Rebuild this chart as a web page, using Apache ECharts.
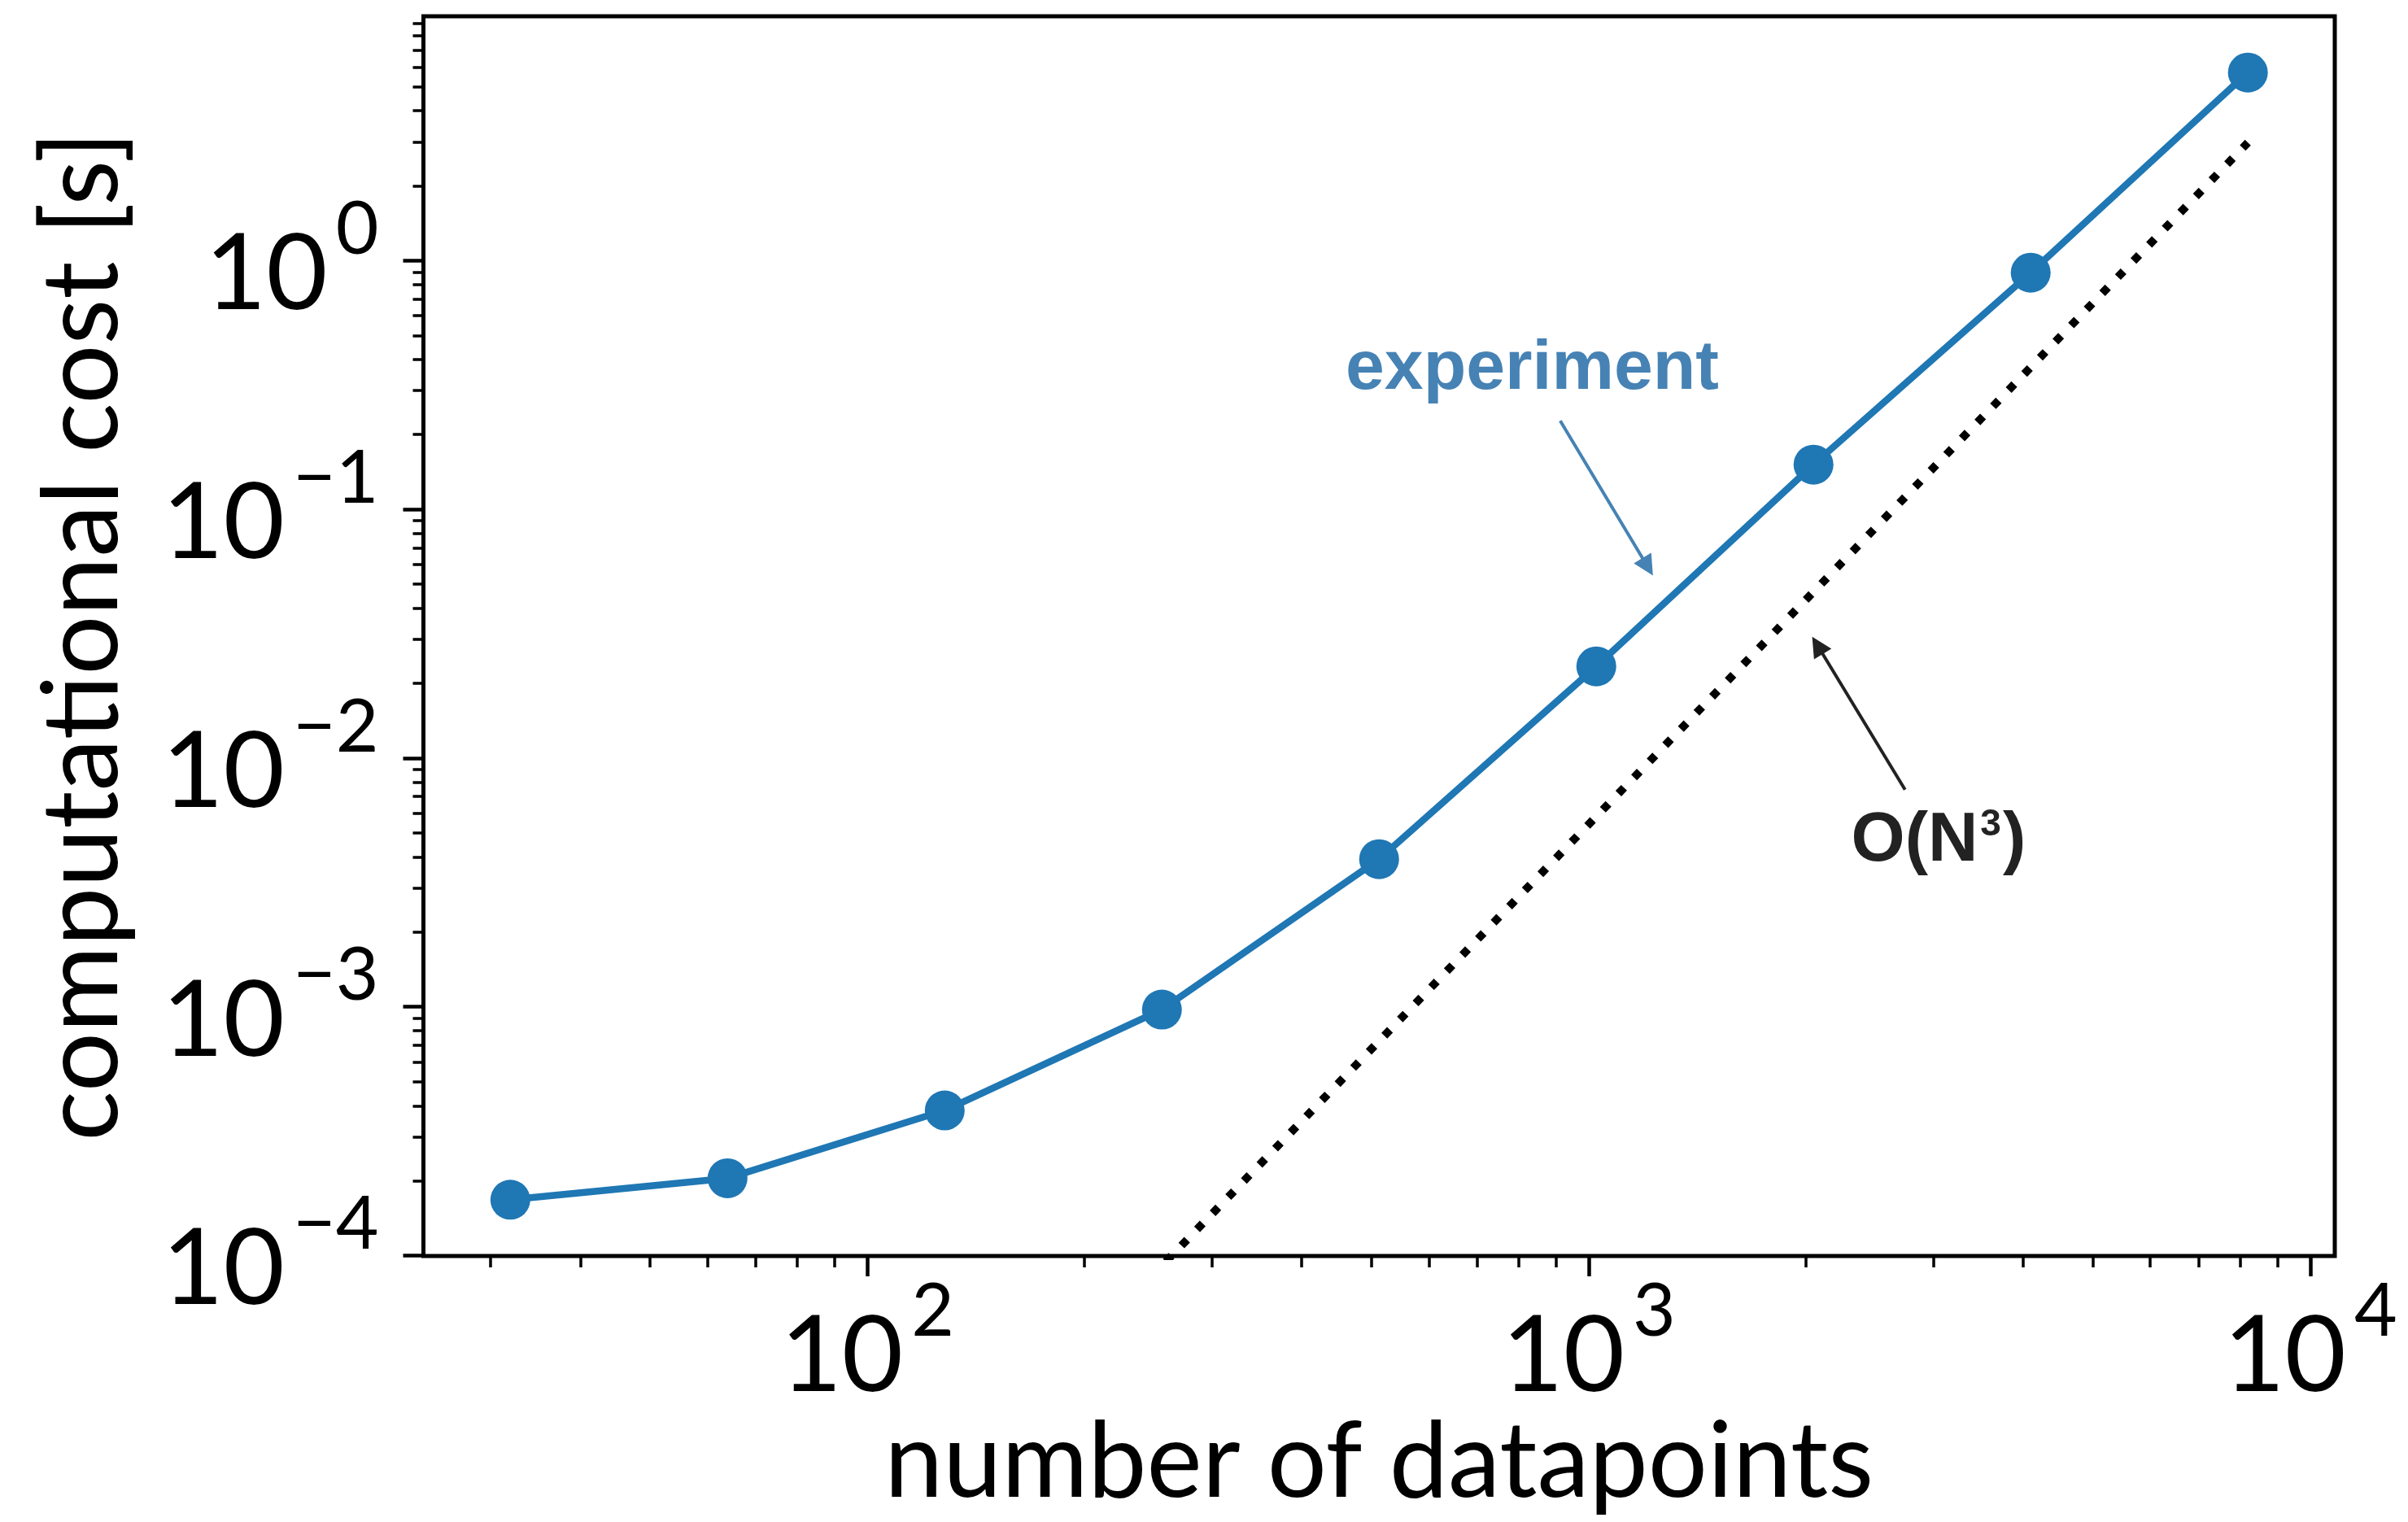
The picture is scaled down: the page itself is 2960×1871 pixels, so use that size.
<!DOCTYPE html>
<html>
<head>
<meta charset="utf-8">
<script src="https://cdn.jsdelivr.net/npm/echarts@6/dist/echarts.min.js"></script>
<style>
  html, body { margin: 0; padding: 0; background: #fff; }
  #chart { width: 2960px; height: 1871px; }
</style>
</head>
<body>
<div id="chart"></div>
<script>
// Problem sizes and measured run times
const datapoints = [32, 64, 128, 256, 512, 1024, 2048, 4096, 8192];
const experimentCost = [1.675e-4, 2.044e-4, 3.83e-4, 9.74e-4, 3.92e-3, 0.02335, 0.1512, 0.894, 5.70];
// Cubic reference curve, O(N^3)
const cubicCost = [1.776e-7, 1.421e-6, 1.137e-5, 9.095e-5, 7.276e-4, 5.821e-3, 0.04657, 0.3725, 2.98];

// Axis extents
const xRange = [24.25, 10810];
const yRange = [9.95e-5, 9.6];

// Major ticks and their exponent labels
const xMajorTicks = [100, 1000, 10000];
const xTickExponents = ['2', '3', '4'];
const yMajorTicks = [1e-4, 1e-3, 1e-2, 1e-1, 1];
const yTickExponents = ['\u22124', '\u22123', '\u22122', '\u22121', '0'];

// Minor ticks (2..9 within each decade)
const xMinorTicks = [30, 40, 50, 60, 70, 80, 90,
  200, 300, 400, 500, 600, 700, 800, 900,
  2000, 3000, 4000, 5000, 6000, 7000, 8000, 9000];
const yMinorTicks = [2e-4, 3e-4, 4e-4, 5e-4, 6e-4, 7e-4, 8e-4, 9e-4,
  2e-3, 3e-3, 4e-3, 5e-3, 6e-3, 7e-3, 8e-3, 9e-3,
  0.02, 0.03, 0.04, 0.05, 0.06, 0.07, 0.08, 0.09,
  0.2, 0.3, 0.4, 0.5, 0.6, 0.7, 0.8, 0.9,
  2, 3, 4, 5, 6, 7, 8, 9];

// Annotations: text anchors and arrows, in data coordinates
const experimentLabel = { text: 'experiment', at: [834.6, 0.3638] };
const experimentArrow = { from: [912.6, 0.2271], to: [1206.6, 0.05876] };
const cubicLabel = { text: '{m|O(N}{s|3}{m|)}', at: [3052, 4.625e-3] };
const cubicArrow = { from: [2743, 7.46e-3], to: [2074, 0.02838] };

const FONT = 'Lato';
const BLUE = '#1f77b4';

function powerLabel(ticks, exps) {
  return function (v) {
    let i = -1, best = Infinity;
    ticks.forEach(function (t, k) {
      const d = Math.abs(Math.log10(v) - Math.log10(t));
      if (d < best) { best = d; i = k; }
    });
    return '{b|10}{e|' + exps[i] + '}';
  };
}

const labelRich = {
  b: { fontFamily: FONT, fontSize: 130, lineHeight: 166, verticalAlign: 'bottom', color: '#000' },
  e: { fontFamily: FONT, fontSize: 91, lineHeight: 91, verticalAlign: 'top', color: '#000', padding: [0, 0, 0, 10] }
};

function logAxis(extra) {
  return Object.assign({
    type: 'log',
    logBase: 10,
    splitLine: { show: false },
    axisLine: { show: false },
    nameMoveOverlap: false
  }, extra);
}

const chart = echarts.init(document.getElementById('chart'), null, { renderer: 'canvas' });

chart.setOption({
  animation: false,
  backgroundColor: '#fff',
  grid: {
    left: 520.5, top: 20, right: 90, bottom: 327,
    show: true, borderColor: '#000', borderWidth: 5,
    backgroundColor: 'transparent',
    outerBoundsMode: 'none',
    containLabel: false
  },
  xAxis: [
    logAxis({
      min: xRange[0], max: xRange[1], position: 'bottom',
      name: 'number of datapoints', nameLocation: 'middle', nameGap: 190,
      nameTextStyle: { fontFamily: FONT, fontSize: 129, color: '#000' },
      axisTick: { show: true, inside: false, length: 25, lineStyle: { color: '#000', width: 4.5 }, customValues: xMajorTicks },
      axisLabel: {
        show: true, margin: 23, customValues: xMajorTicks,
        formatter: powerLabel(xMajorTicks, xTickExponents), rich: labelRich
      }
    }),
    logAxis({
      min: xRange[0], max: xRange[1], position: 'bottom',
      axisTick: { show: true, inside: false, length: 14, lineStyle: { color: '#000', width: 3.5 }, customValues: xMinorTicks },
      axisLabel: { show: false }
    })
  ],
  yAxis: [
    logAxis({
      min: yRange[0], max: yRange[1], position: 'left',
      name: 'computational cost [s]', nameLocation: 'middle', nameGap: 354,
      nameTextStyle: { fontFamily: FONT, fontSize: 129, color: '#000' },
      axisTick: { show: true, inside: false, length: 25, lineStyle: { color: '#000', width: 4.5 }, customValues: yMajorTicks },
      axisLabel: {
        show: true, margin: 55, customValues: yMajorTicks,
        formatter: powerLabel(yMajorTicks, yTickExponents), rich: labelRich
      }
    }),
    logAxis({
      min: yRange[0], max: yRange[1], position: 'left',
      axisTick: { show: true, inside: false, length: 13, lineStyle: { color: '#000', width: 3.5 }, customValues: yMinorTicks },
      axisLabel: { show: false }
    })
  ],
  series: [
    {
      name: 'O(N^3)',
      type: 'line',
      xAxisIndex: 0, yAxisIndex: 0,
      data: datapoints.map(function (n, i) { return [n, cubicCost[i]]; }),
      showSymbol: false,
      symbol: 'none',
      clip: true,
      silent: true,
      lineStyle: { color: '#000', width: 10, type: [10, 17.6], cap: 'butt' },
      z: 2,
      markLine: {
        silent: true, animation: false,
        symbol: ['none', 'triangle'], symbolSize: [25, 25],
        label: { show: false },
        lineStyle: { color: '#222', width: 4, type: 'solid' },
        itemStyle: { color: '#222' },
        emphasis: { disabled: true },
        data: [[{ coord: cubicArrow.from }, { coord: cubicArrow.to }]]
      },
      markPoint: {
        silent: true, animation: false,
        symbol: 'circle', symbolSize: 1,
        itemStyle: { color: 'rgba(0,0,0,0)' },
        label: {
          show: true, position: 'inside', formatter: cubicLabel.text,
          fontFamily: 'Liberation Sans', fontWeight: 'bold', fontSize: 85, color: '#222',
          rich: {
            m: { fontFamily: 'Liberation Sans', fontWeight: 'bold', fontSize: 85, lineHeight: 85, color: '#222' },
            s: { fontFamily: 'Liberation Sans', fontWeight: 'bold', fontSize: 46, lineHeight: 64, verticalAlign: 'top', color: '#222', padding: [0, 2, 0, 3] }
          }
        },
        emphasis: { disabled: true },
        data: [{ coord: cubicLabel.at }]
      }
    },
    {
      name: 'experiment',
      type: 'line',
      xAxisIndex: 0, yAxisIndex: 0,
      data: datapoints.map(function (n, i) { return [n, experimentCost[i]]; }),
      symbol: 'circle',
      symbolSize: 49,
      showSymbol: true,
      clip: true,
      silent: true,
      itemStyle: { color: BLUE },
      lineStyle: { color: BLUE, width: 8.5 },
      z: 3,
      markLine: {
        silent: true, animation: false,
        symbol: ['none', 'triangle'], symbolSize: [25, 25],
        label: { show: false },
        lineStyle: { color: '#4682b4', width: 4, type: 'solid' },
        itemStyle: { color: '#4682b4' },
        emphasis: { disabled: true },
        data: [[{ coord: experimentArrow.from }, { coord: experimentArrow.to }]]
      },
      markPoint: {
        silent: true, animation: false,
        symbol: 'circle', symbolSize: 1,
        itemStyle: { color: 'rgba(0,0,0,0)' },
        label: {
          show: true, position: 'inside', formatter: experimentLabel.text,
          fontFamily: 'Liberation Sans', fontWeight: 'bold', fontSize: 86, color: '#4682b4'
        },
        emphasis: { disabled: true },
        data: [{ coord: experimentLabel.at }]
      }
    }
  ]
});
</script>
</body>
</html>
